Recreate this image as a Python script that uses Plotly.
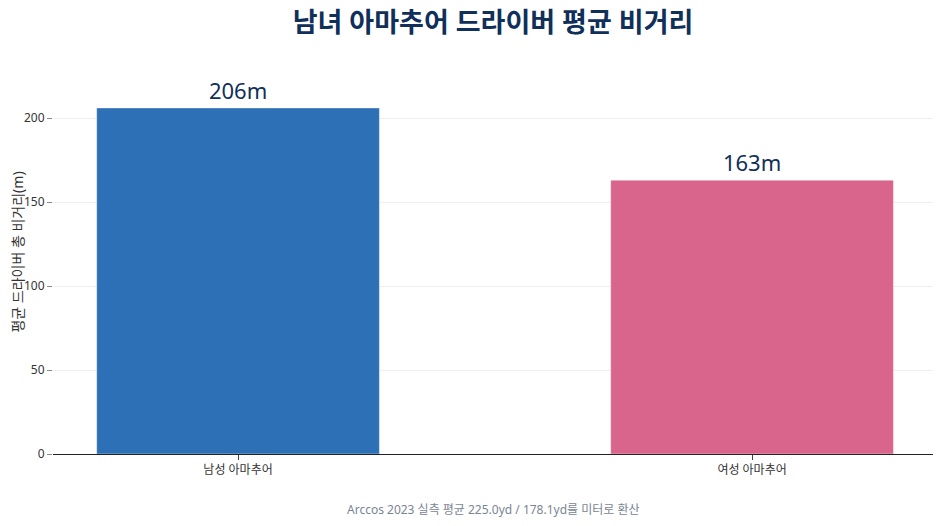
import plotly.graph_objects as go

groups = ["남성 아마추어", "여성 아마추어"]
carry_m = [206, 163]
bar_colors = ["#2e70b5", "#d9648c"]

fig = go.Figure(
    go.Bar(
        x=groups,
        y=carry_m,
        marker=dict(color=bar_colors, line=dict(color="rgba(255,255,255,0.4)", width=1)),
        text=carry_m,
        texttemplate="%{text}m",
        textposition="outside",
        textfont=dict(size=22, color="#10305a"),
        cliponaxis=False,
        width=0.55,
    )
)

fig.update_layout(
    width=941,
    height=526,
    margin=dict(l=45, r=16, t=42, b=80),
    paper_bgcolor="white",
    plot_bgcolor="white",
    font=dict(family="Noto Sans, Noto Sans CJK KR", size=12, color="#333333"),
    title=dict(
        text="<b>남녀 아마추어 드라이버 평균 비거리</b>",
        x=0.5,
        xref="paper",
        xanchor="center",
        y=0.972,
        yanchor="middle",
        font=dict(size=27, color="#10305a"),
    ),
    showlegend=False,
    annotations=[
        dict(
            text="Arccos 2023 실측 평균 225.0yd / 178.1yd를 미터로 환산",
            xref="paper", yref="paper",
            x=0.5, y=-0.138,
            xanchor="center", yanchor="middle",
            showarrow=False,
            font=dict(size=12, color="#7a8594"),
        )
    ],
)

fig.update_xaxes(
    range=[-0.36, 1.352],
    showline=True, linecolor="#222222", linewidth=1,
    ticks="outside", ticklen=5, tickcolor="#444444",
    showgrid=False,
)
fig.update_yaxes(
    range=[0, 240.5],
    automargin=False,
    title=dict(text="평균 드라이버 총 비거리(m)", font=dict(size=14, color="#333333"), standoff=2),
    ticks="outside", ticklen=5, tickcolor="#888888",
    tickvals=[0, 50, 100, 150, 200],
    showgrid=True, gridcolor="#eeeeee",
    zeroline=False, showline=False,
)

fig.write_html("out.html")
